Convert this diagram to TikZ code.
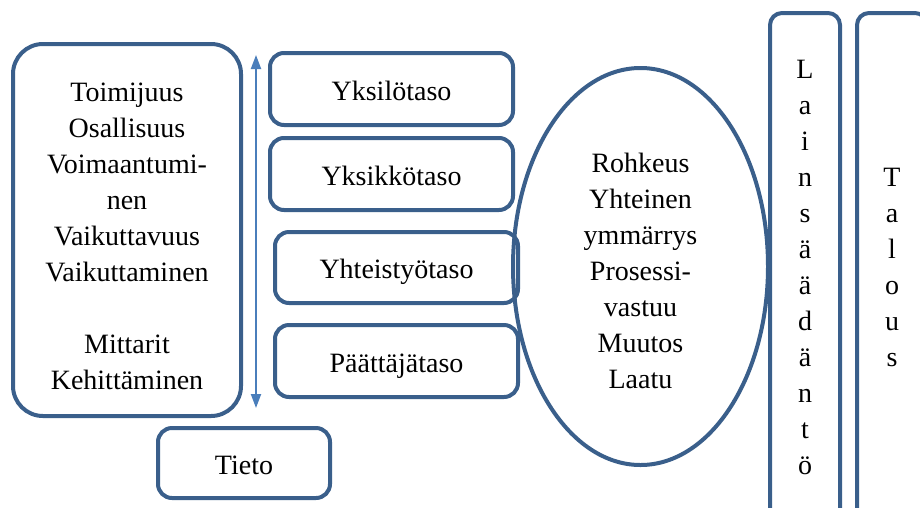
\documentclass[tikz,border=0pt]{standalone}
\usepackage{fontspec}
\setmainfont{Liberation Serif}
\usetikzlibrary{shapes.geometric,arrows.meta}
\definecolor{reuna}{HTML}{3A5F8B}
\definecolor{nuoli}{HTML}{4A7EBB}
\tikzset{
  laatikko/.style={draw=reuna, line width=4pt, rounded corners=14pt, align=center,
    inner sep=0pt, font=\fontsize{28}{36}\selectfont},
  tasobox/.style={laatikko, minimum width=243pt, minimum height=72pt, text height=22pt, text depth=0pt},
  pystybox/.style={laatikko, rounded corners=12pt, minimum width=70pt, minimum height=508pt}
}
\begin{document}
\begin{tikzpicture}[x=1pt, y=-1pt]
        \clip (0,0) rectangle (920,507);
        \useasboundingbox (0,0) rectangle (920,507);

        \node[laatikko, rounded corners=30pt, minimum width=228pt, minimum height=372pt] (vasen) at (127, 230) {};
        \node[laatikko, draw=none] (vasenteksti) at (127, 236) {Toimijuus\\Osallisuus\\Voimaantumi-\\nen\\Vaikuttavuus\\Vaikuttaminen\\[36pt]Mittarit\\Kehittäminen};

        \coordinate (ylos) at (256, 55);
        \coordinate (alas) at (256, 408);
        \draw[nuoli, line width=2pt, {Triangle[width=10pt,length=14pt]}-{Triangle[width=10pt,length=14pt]}] (ylos) -- (alas);

        \node[tasobox] (yksilo) at (391.5, 89) {Yksilötaso};
        \node[tasobox] (yksikko) at (391.5, 174) {Yksikkötaso};
        \node[tasobox, minimum height=71pt] (yhteistyo) at (396.5, 267.5) {Yhteistyötaso};
        \node[tasobox] (paattaja) at (396.5, 361) {Päättäjätaso};

        \node[tasobox, minimum width=172pt, minimum height=70pt] (tieto) at (244, 463) {Tieto};

        \node[laatikko, ellipse, minimum width=255pt, minimum height=397pt] (arvot) at (640.5, 266.5) {};
        \node[laatikko, draw=none] (arvoteksti) at (640.5, 271) {Rohkeus\\Yhteinen\\ymmärrys\\Prosessi-\\vastuu\\Muutos\\Laatu};

        \node[pystybox] (laki) at (805, 267) {L\\a\\i\\n\\s\\ä\\ä\\d\\ä\\n\\t\\ö};
        \node[pystybox] (talous) at (892, 267) {T\\a\\l\\o\\u\\s};

\end{tikzpicture}
\end{document}
